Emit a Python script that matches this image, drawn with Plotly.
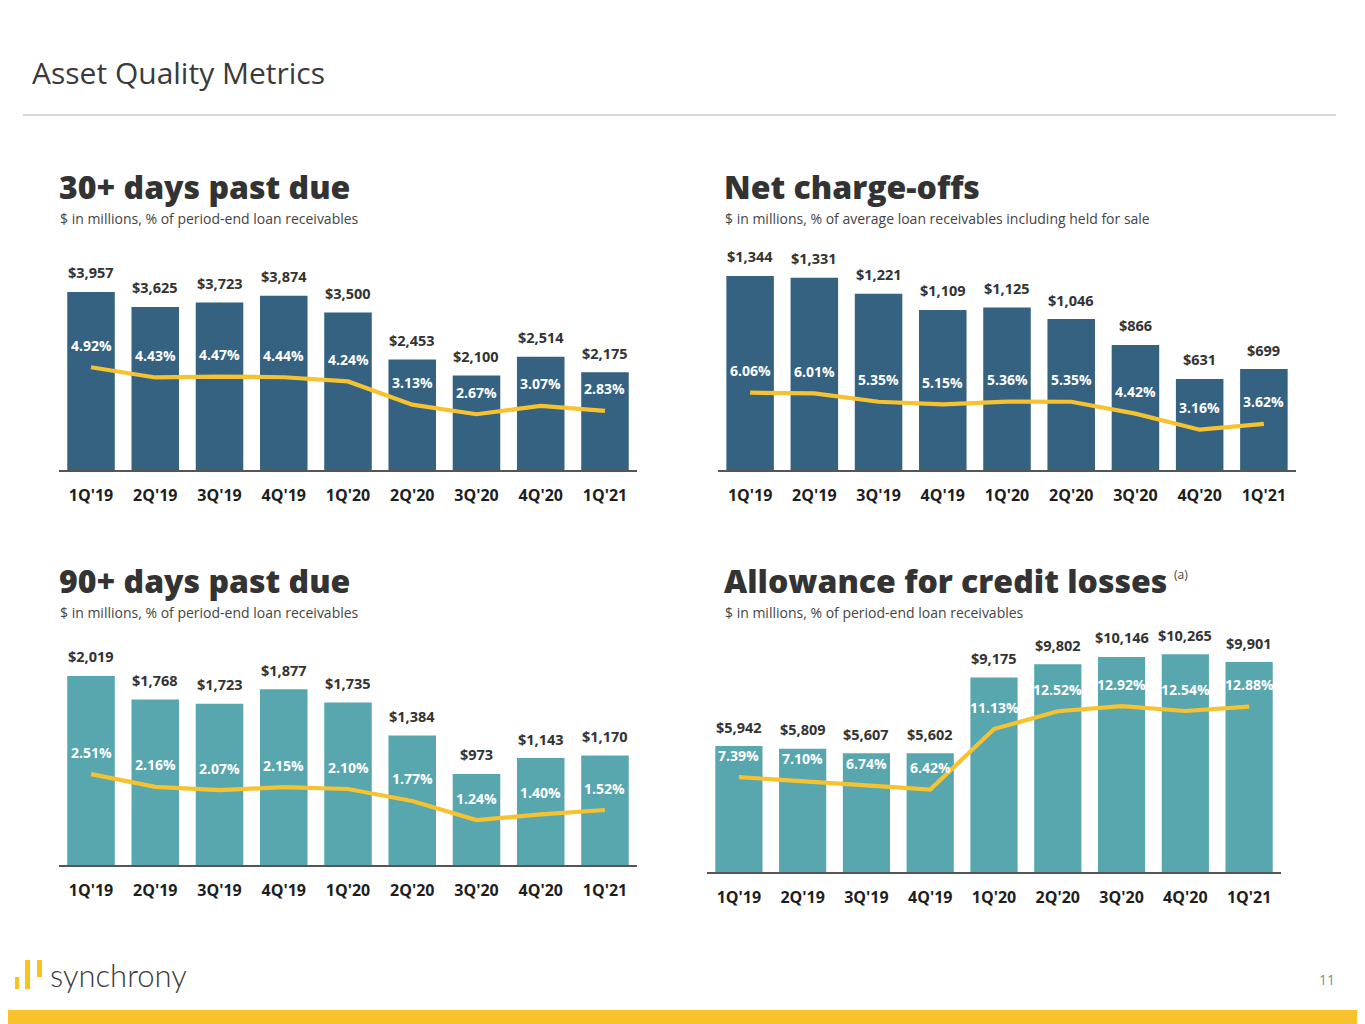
import plotly.graph_objects as go

# page offset of the plot div inside the browser body (default 8px margin)
OFF = 8
W, H = 1365 - OFF, 1024 - OFF

quarters = ["1Q'19", "2Q'19", "3Q'19", "4Q'19", "1Q'20", "2Q'20", "3Q'20", "4Q'20", "1Q'21"]

dpd30_amt = [3957, 3625, 3723, 3874, 3500, 2453, 2100, 2514, 2175]
dpd30_pct = [4.92, 4.43, 4.47, 4.44, 4.24, 3.13, 2.67, 3.07, 2.83]
nco_amt = [1344, 1331, 1221, 1109, 1125, 1046, 866, 631, 699]
nco_pct = [6.06, 6.01, 5.35, 5.15, 5.36, 5.35, 4.42, 3.16, 3.62]
dpd90_amt = [2019, 1768, 1723, 1877, 1735, 1384, 973, 1143, 1170]
dpd90_pct = [2.51, 2.16, 2.07, 2.15, 2.10, 1.77, 1.24, 1.40, 1.52]
acl_amt = [5942, 5809, 5607, 5602, 9175, 9802, 10146, 10265, 9901]
acl_pct = [7.39, 7.10, 6.74, 6.42, 11.13, 12.52, 12.92, 12.54, 12.88]

BLUE = "#356280"
TEAL = "#58A6AE"
YELLOW = "#F6C22F"
DARK = "#333333"
FONT = "Open Sans"


def fx(px):
    return (px - OFF) / W


def fy(py):
    return 1 - (py - OFF) / H


panels = [
    dict(amt=dpd30_amt, pct=dpd30_pct, color=BLUE, xd=(58.9, 637.1), yd=(250, 470), r1=4889, r2=10.53),
    dict(amt=nco_amt, pct=nco_pct, color=BLUE, xd=(718, 1296), yd=(250, 470), r1=1524, r2=17.24),
    dict(amt=dpd90_amt, pct=dpd90_pct, color=TEAL, xd=(58.9, 637.1), yd=(645, 865), r1=2350, r2=6.08),
    dict(amt=acl_amt, pct=acl_pct, color=TEAL, xd=(707, 1281), yd=(640, 872), r1=10943, r2=18.07),
]

fig = go.Figure()
layout = dict(
    width=W, height=H,
    margin=dict(l=0, r=0, t=0, b=0),
    paper_bgcolor="white", plot_bgcolor="white",
    showlegend=False, bargap=0.26,
    font=dict(family=FONT, color=DARK),
)
annotations = []

for i, p in enumerate(panels, start=1):
    xa = f"x{i}" if i > 1 else "x"
    ya1_n = 2 * i - 1
    ya2_n = 2 * i
    ya1 = f"y{ya1_n}" if ya1_n > 1 else "y"
    ya2 = f"y{ya2_n}"
    fig.add_trace(go.Bar(x=quarters, y=p["amt"], marker=dict(color=p["color"], line=dict(width=0)),
                         xaxis=xa, yaxis=ya1, hoverinfo="skip"))
    fig.add_trace(go.Scatter(x=quarters, y=p["pct"], mode="lines",
                             line=dict(color=YELLOW, width=4.2),
                             xaxis=xa, yaxis=ya2, hoverinfo="skip"))
    xkey = "xaxis" if i == 1 else f"xaxis{i}"
    y1key = "yaxis" if ya1_n == 1 else f"yaxis{ya1_n}"
    y2key = f"yaxis{ya2_n}"
    layout[xkey] = dict(
        domain=[fx(p["xd"][0]), fx(p["xd"][1])],
        anchor=ya1, type="category",
        showline=True, linecolor="#555555", linewidth=1.5,
        showgrid=False, zeroline=False, ticks="",
        ticklabelstandoff=10,
        tickfont=dict(family=FONT, size=16, color="#1e1e1e", weight="bold"),
    )
    layout[y1key] = dict(
        domain=[fy(p["yd"][1]), fy(p["yd"][0])],
        anchor=xa, range=[0, p["r1"]], visible=False, fixedrange=True,
    )
    layout[y2key] = dict(
        domain=[fy(p["yd"][1]), fy(p["yd"][0])],
        anchor=xa, overlaying=ya1, range=[0, p["r2"]], visible=False, fixedrange=True,
    )
    for q, a, pc in zip(quarters, p["amt"], p["pct"]):
        annotations.append(dict(x=q, y=a, xref=xa, yref=ya1, text=f"${a:,}", showarrow=False,
                                yanchor="middle", yshift=19,
                                font=dict(family=FONT, size=14.5, color=DARK, weight="bold")))
        annotations.append(dict(x=q, y=pc, xref=xa, yref=ya2, text=f"{pc:.2f}%", showarrow=False,
                                yanchor="middle", yshift=22,
                                font=dict(family=FONT, size=14, color="white", weight="bold")))


def ptext(text, x, y, size, color=DARK, weight="normal", xanchor="left", family=FONT):
    annotations.append(dict(text=text, x=fx(x), y=fy(y), xref="paper", yref="paper",
                            xanchor=xanchor, yanchor="middle", showarrow=False,
                            font=dict(family=family, size=size, color=color, weight=weight)))


ptext("Asset Quality Metrics", 30, 72, 30, color="#3a3a3a")
ptext("30+ days past due", 57, 186, 32, weight=800)
ptext("$ in millions, % of period-end loan receivables", 58, 218.5, 14, color="#444444")
ptext("Net charge-offs", 722, 186, 32, weight=800)
ptext("$ in millions, % of average loan receivables including held for sale", 723, 218.5, 14, color="#444444")
ptext("90+ days past due", 57, 580, 32, weight=800)
ptext("$ in millions, % of period-end loan receivables", 58, 612.5, 14, color="#444444")
ptext("Allowance for credit losses", 722, 580, 32, weight=800)
ptext("(a)", 1172, 574, 12, color="#444444")
ptext("$ in millions, % of period-end loan receivables", 723, 612.5, 14, color="#444444")
ptext("11", 1337, 979, 14, color="#8a8a8a", xanchor="right")
ptext("synchrony", 48, 975, 31, color="#3a3a3a", weight=300, family="Lato")

layout["annotations"] = annotations


def rect(x0, y0, x1, y1, color):
    return dict(type="rect", xref="paper", yref="paper", x0=fx(x0), x1=fx(x1), y0=fy(y1), y1=fy(y0),
                fillcolor=color, line=dict(width=0), layer="above")


layout["shapes"] = [
    dict(type="line", xref="paper", yref="paper", x0=fx(23), x1=fx(1336), y0=fy(115), y1=fy(115),
         line=dict(color="#C9C9C9", width=1.5)),
    rect(OFF, 1010, 1365, 1024, "#F8C22D"),
    rect(15, 977, 19, 989, "#F9C31F"),
    rect(25, 960, 30, 989, "#F9C31F"),
    rect(37, 960, 42, 977, "#F9C31F"),
]

fig.update_layout(**layout)
fig.write_html("out.html")
